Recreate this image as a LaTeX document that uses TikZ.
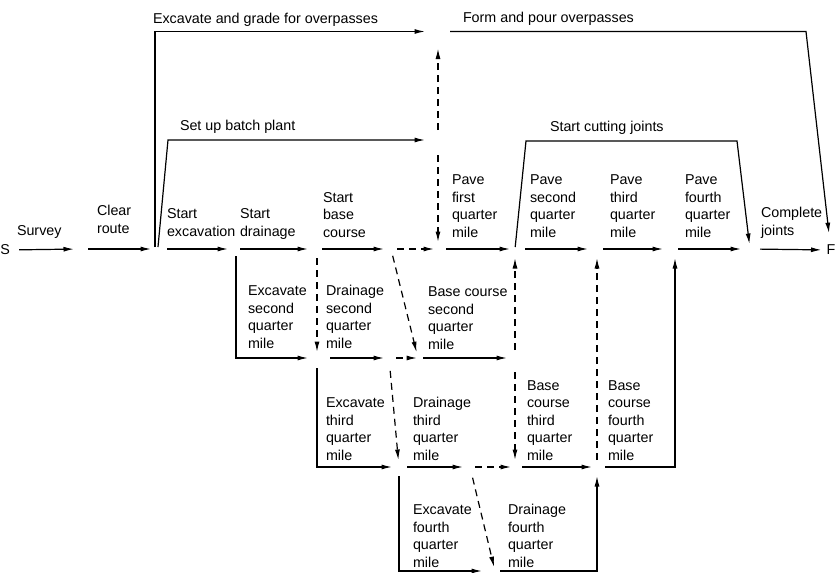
\documentclass[tikz,border=0pt]{standalone}
\usepackage{fontspec}
\setmainfont{Liberation Sans}
\usetikzlibrary{arrows.meta}
\begin{document}
\begin{tikzpicture}[x=1pt,y=-1pt,
  lbl/.style={anchor=south west, inner sep=0pt, outer sep=0pt, align=left, yshift=-5.25pt, font=\fontsize{14.3}{17.5}\selectfont},
  endpt/.style={anchor=west, inner sep=0pt, outer sep=0pt, font=\fontsize{14.3}{17.5}\selectfont},
  arr/.style={line width=1.2pt, -{Latex[length=10.5pt,width=5pt]}},
  darr/.style={arr, dash pattern=on 7pt off 5pt}]
\useasboundingbox (0,0) rectangle (836,573);
\fill[white] (0,0) rectangle (836,573);
% events
\node[endpt] (S) at (0.5,250) {S};
\node[endpt] (F) at (826.5,250) {F};
\coordinate (e1) at (81,249);
\coordinate (e2) at (155,249);
\coordinate (bp0) at (158,247);
\coordinate (e3) at (236,249);
\coordinate (e4) at (317,249);
\coordinate (e5) at (391,249);
\coordinate (e6) at (438,249);
\coordinate (e7) at (515,249);
\coordinate (e8) at (597,249);
\coordinate (e9) at (675,249);
\coordinate (e10) at (750,249);
\coordinate (O) at (438,31.5);
\coordinate (B) at (438,140);
\coordinate (ov1) at (155,31.5);
\coordinate (bp1) at (168,140);
\coordinate (fp1) at (806,31.5);
\coordinate (cj1) at (526,141);
\coordinate (cj2) at (737,141);
\coordinate (r2a) at (317,358);
\coordinate (r2ab) at (389,358);
\coordinate (r2b) at (418,358);
\coordinate (r2c) at (515,358);
\coordinate (x2) at (236,358);
\coordinate (r3a) at (399,467);
\coordinate (r3ab) at (470,467);
\coordinate (r3b) at (515,467);
\coordinate (r3c) at (597,467);
\coordinate (x3) at (317,467);
\coordinate (b4) at (675,467);
\coordinate (r4a) at (495,571);
\coordinate (x4) at (399,571);
\coordinate (d4) at (597,571);
% main row
\draw[arr, shorten <=9pt, shorten >=7pt] (S) -- (e1);
\draw[arr, shorten <=7pt, shorten >=4pt] (e1) -- (e2);
\draw[arr, shorten <=12pt, shorten >=8pt] (e2) -- (e3);
\draw[arr, shorten <=4pt, shorten >=9pt] (e3) -- (e4);
\draw[arr, shorten <=5pt, shorten >=7pt] (e4) -- (e5);
\draw[darr, shorten <=6pt, shorten >=4pt] (e5) -- (e6);
\draw[arr, shorten <=8pt, shorten >=5pt] (e6) -- (e7);
\draw[arr, shorten <=10pt, shorten >=9pt] (e7) -- (e8);
\draw[arr, shorten <=6pt, shorten >=12pt] (e8) -- (e9);
\draw[arr, shorten <=3pt, shorten >=9pt] (e9) -- (e10);
\draw[arr, shorten <=10pt, shorten >=5pt] (e10) -- (F);
% top
\draw[arr, shorten <=2pt, shorten >=13pt] (e2) -- (ov1) -- (O);
\draw[arr, shorten >=13pt] (bp0) -- (bp1) -- (B);
\draw[darr, shorten <=10pt, shorten >=17pt] (B) -- (O);
\draw[darr, shorten <=15pt, shorten >=7pt] (B) -- (e6);
\draw[arr, shorten <=12pt, shorten >=12pt] (O) -- (fp1) -- (F);
\draw[arr, shorten <=2pt, shorten >=5pt] (e7) -- (cj1) -- (cj2) -- (e10);
% row 2
\draw[arr, shorten <=7pt, shorten >=9pt] (e3) -- (x2) -- (r2a);
\draw[darr, shorten <=9pt, shorten >=6pt] (e4) -- (r2a);
\draw[darr, shorten <=7pt, shorten >=6pt] (e5) -- (r2b);
\draw[arr, shorten <=13pt, shorten >=5pt] (r2a) -- (r2ab);
\draw[darr, shorten <=7pt, shorten >=1pt] (r2ab) -- (r2b);
\draw[arr, shorten <=5pt, shorten >=8pt] (r2b) -- (r2c);
\draw[darr, shorten <=8pt, shorten >=9pt] (r2c) -- (e7);
% row 3
\draw[arr, shorten <=10pt, shorten >=7pt] (r2a) -- (x3) -- (r3a);
\draw[darr, shorten <=13pt, shorten >=7pt] (r2ab) -- (r3a);
\draw[darr, shorten <=14pt, shorten >=7pt] (r2c) -- (r3b);
\draw[arr, shorten <=8pt, shorten >=7pt] (r3a) -- (r3ab);
\draw[darr, shorten <=5pt, shorten >=4pt] (r3ab) -- (r3b);
\draw[arr, shorten <=7pt, shorten >=5pt] (r3b) -- (r3c);
\draw[darr, shorten <=7pt, shorten >=9pt] (r3c) -- (e8);
\draw[arr, shorten <=8pt, shorten >=9pt] (r3c) -- (b4) -- (e9);
% row 4
\draw[arr, shorten <=9pt, shorten >=13pt] (r3a) -- (x4) -- (r4a);
\draw[darr, shorten <=11pt, shorten >=4pt] (r3ab) -- (r4a);
\draw[arr, shorten <=5pt, shorten >=9pt] (r4a) -- (d4) -- (r3c);
% labels
\node[lbl] (l1) at (153,23) {Excavate and grade for overpasses\strut};
\node[lbl] (l2) at (463,22) {Form and pour overpasses\strut};
\node[lbl] (l3) at (180,130) {Set up batch plant\strut};
\node[lbl] (l4) at (550,131) {Start cutting joints\strut};
\node[lbl] (l5) at (17,235) {Survey\strut};
\node[lbl] (l6) at (97,233) {Clear\\route\strut};
\node[lbl] (l7) at (167,236) {Start\\excavation\strut};
\node[lbl] (l8) at (240,236) {Start\\drainage\strut};
\node[lbl] (l9) at (323,237) {Start\\base\\course\strut};
\node[lbl] (l10) at (452,237) {Pave\\first\\quarter\\mile\strut};
\node[lbl] (l11) at (530,237) {Pave\\second\\quarter\\mile\strut};
\node[lbl] (l12) at (610,237) {Pave\\third\\quarter\\mile\strut};
\node[lbl] (l13) at (685,237) {Pave\\fourth\\quarter\\mile\strut};
\node[lbl] (l14) at (761,235) {Complete\\joints\strut};
\node[lbl] (l15) at (248,348) {Excavate\\second\\quarter\\mile\strut};
\node[lbl] (l16) at (326,348) {Drainage\\second\\quarter\\mile\strut};
\node[lbl] (l17) at (428,349) {Base course\\second\\quarter\\mile\strut};
\node[lbl] (l18) at (326,460) {Excavate\\third\\quarter\\mile\strut};
\node[lbl] (l19) at (413,460) {Drainage\\third\\quarter\\mile\strut};
\node[lbl] (l20) at (527,460) {Base\\course\\third\\quarter\\mile\strut};
\node[lbl] (l21) at (608,460) {Base\\course\\fourth\\quarter\\mile\strut};
\node[lbl] (l22) at (413,567) {Excavate\\fourth\\quarter\\mile\strut};
\node[lbl] (l23) at (508,567) {Drainage\\fourth\\quarter\\mile\strut};
\end{tikzpicture}
\end{document}
